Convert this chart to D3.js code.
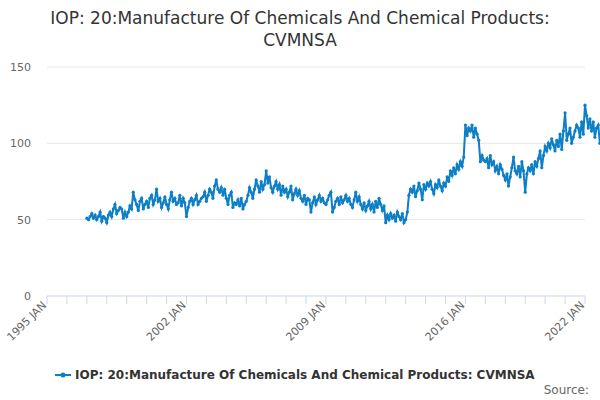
<!DOCTYPE html>
<html><head><meta charset="utf-8">
<script src="https://cdn.jsdelivr.net/npm/d3@7"></script>
<style>body{margin:0;font-family:"DejaVu Sans",sans-serif;}</style>
</head><body><div id="chart"></div>
<script>
const TITLE = 'IOP: 20:Manufacture Of Chemicals And Chemical Products: CVMNSA';
const START_YEAR = 1997;
const TICK_LABELS = ['1995 JAN', '2002 JAN', '2009 JAN', '2016 JAN', '2022 JAN'];
// monthly values, one row per year 1997..2021
const values = [
  51,50,52,54,51,53,50,52,55,49,52,51,
  48,53,55,52,57,60,54,56,58,57,51,55,
  52,55,59,57,68,63,60,56,62,64,57,60,
  62,58,64,66,60,63,70,62,64,58,61,65,
  60,57,63,68,62,64,60,61,66,59,64,61,
  52,58,62,64,60,63,66,60,62,64,65,68,
  62,66,70,68,64,72,76,70,68,71,66,70,
  64,60,66,68,58,61,60,63,59,64,57,60,
  62,66,71,68,64,70,76,72,68,75,70,73,
  82,74,78,71,68,72,75,70,73,66,72,68,
  70,65,68,72,63,67,70,66,69,64,62,66,
  60,64,63,55,61,65,60,63,66,62,64,61,
  60,63,66,68,55,58,62,64,60,65,61,63,
  66,62,64,60,58,63,68,62,65,60,57,61,
  56,59,62,57,60,55,62,58,64,60,56,59,
  48,53,50,54,51,53,49,55,52,50,54,48,
  50,55,66,70,68,72,65,69,74,70,63,73,
  70,74,72,75,70,67,73,71,76,72,69,74,
  72,78,75,82,79,84,80,86,83,88,85,91,
  112,105,110,108,112,104,110,106,102,88,92,89,
  88,90,84,92,86,88,82,85,80,86,83,79,
  76,80,72,78,84,91,82,80,85,78,88,82,
  68,80,84,82,86,80,88,85,90,95,84,92,
  98,95,100,97,103,99,95,102,98,106,96,108,
  120,102,106,110,100,104,108,112,110,104,114,106,
  125,118,110,116,108,114,104,110,112,100,106,103
];
const Y_TICKS = [0, 50, 100, 150];

const W = 600, H = 400;
const margin = {left: 47, right: 15, top: 58, bottom: 104};
const data = values.map((v, i) => ({date: new Date(START_YEAR + Math.floor(i / 12), i % 12, 1), value: v}));

const svg = d3.select('#chart').append('svg').attr('width', W).attr('height', H);

const x = d3.scaleTime().domain([new Date(1995, 0, 1), new Date(2022, 0, 1)]).range([margin.left, W - margin.right]);
const y = d3.scaleLinear().domain([0, 150]).range([H - margin.bottom, 67]);

svg.append('text').attr('x', W / 2).attr('y', 24).attr('text-anchor', 'middle')
  .attr('font-size', 17).attr('fill', '#333').text('IOP: 20:Manufacture Of Chemicals And Chemical Products:');
svg.append('text').attr('x', W / 2).attr('y', 46).attr('text-anchor', 'middle')
  .attr('font-size', 17).attr('fill', '#333').text('CVMNSA');

// grid
svg.append('g').selectAll('line').data(Y_TICKS.slice(1)).join('line')
  .attr('x1', margin.left).attr('x2', W - margin.right)
  .attr('y1', d => y(d)).attr('y2', d => y(d)).attr('stroke', '#e6e6e6');
svg.append('g').selectAll('text').data(Y_TICKS).join('text')
  .attr('x', 31).attr('y', d => y(d) + 4).attr('text-anchor', 'end')
  .attr('font-size', 11).attr('fill', '#666').text(d => d);

// x axis
svg.append('line').attr('x1', margin.left).attr('x2', W - margin.right)
  .attr('y1', y(0)).attr('y2', y(0)).attr('stroke', '#ccd6eb');
const xTicks = d3.range(1995, 2023).map(yr => new Date(yr, 0, 1));
svg.append('g').selectAll('line').data(xTicks).join('line')
  .attr('x1', d => x(d)).attr('x2', d => x(d))
  .attr('y1', y(0)).attr('y2', y(0) + 8).attr('stroke', '#ccd6eb');
const labelDates = TICK_LABELS.map(s => new Date(+s.slice(0, 4), 0, 1));
svg.append('g').selectAll('text').data(TICK_LABELS).join('text')
  .attr('transform', (d, i) => `translate(${x(labelDates[i])},${y(0) + 10}) rotate(-45)`)
  .attr('text-anchor', 'end').attr('font-size', 11).attr('fill', '#666').text(d => d);

const line = d3.line().x(d => x(d.date)).y(d => y(d.value));
svg.append('path').datum(data).attr('d', line).attr('fill', 'none')
  .attr('stroke', '#0d7fc6').attr('stroke-width', 2);
svg.append('g').selectAll('circle').data(data).join('circle')
  .attr('cx', d => x(d.date)).attr('cy', d => y(d.value)).attr('r', 1.6).attr('fill', '#0d7fc6');

// legend
const lg = svg.append('g').attr('transform', 'translate(55,375)');
lg.append('line').attr('x1', 0).attr('x2', 16).attr('stroke', '#0d7fc6').attr('stroke-width', 2);
lg.append('circle').attr('cx', 8).attr('r', 2.5).attr('fill', '#0d7fc6');
lg.append('text').attr('x', 20).attr('y', 4).attr('font-size', 12).attr('font-weight', 'bold')
  .attr('fill', '#333').text(TITLE);
svg.append('text').attr('x', 589).attr('y', 394).attr('text-anchor', 'end')
  .attr('font-size', 12).attr('fill', '#666').text('Source:');
</script></body></html>
